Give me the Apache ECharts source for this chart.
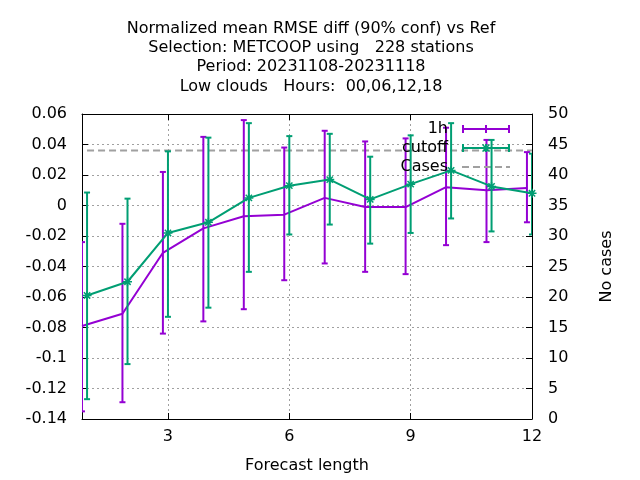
<!DOCTYPE html>
<html><head><meta charset="utf-8">
<script src="https://cdn.jsdelivr.net/npm/echarts@6/dist/echarts.min.js"></script>
<style>html,body{margin:0;padding:0;background:#fff}#c{width:640px;height:480px}</style>
</head><body><div id="c"></div>
<script>
// ---- data ----
const leadTimes = [1, 2, 3, 4, 5, 6, 7, 8, 9, 10, 11, 12];
const mean1h = [-0.079, -0.071, -0.031, -0.015, -0.007, -0.006, 0.005, -0.001, -0.001, 0.012, 0.010, 0.0115];
const lo1h   = [-0.135, -0.129, -0.084, -0.076, -0.068, -0.049, -0.038, -0.0435, -0.045, -0.026, -0.024, -0.011];
const hi1h   = [-0.024, -0.012, 0.022, 0.045, 0.056, 0.038, 0.049, 0.042, 0.044, 0.051, 0.043, 0.035];
const meanCutoff = [-0.059, -0.050, -0.018, -0.011, 0.005, 0.013, 0.017, 0.004, 0.014, 0.023, 0.0125, 0.008];
const loCutoff   = [-0.127, -0.104, -0.073, -0.067, -0.0435, -0.019, -0.0125, -0.025, -0.018, -0.0085, -0.017, -0.019];
const hiCutoff   = [0.0085, 0.0045, 0.0355, 0.0445, 0.054, 0.0455, 0.047, 0.032, 0.046, 0.054, 0.043, 0.034];
const cases = [44, 44, 44, 44, 44, 44, 44, 44, 44, 44, 44, 44];
const xTickValues = [3, 6, 9, 12];
const titleLines = [
  'Normalized mean RMSE diff (90% conf) vs Ref',
  'Selection: METCOOP using   228 stations',
  'Period: 20231108-20231118',
  'Low clouds   Hours:  00,06,12,18'
];

// ---- styling ----
const FONT = 'DejaVu Sans';
const PURPLE = '#9400d3', GREEN = '#009e73', GRAY = '#a0a0a0';
const SHIFT_1H = -0.125; // 1h series is drawn slightly left of the lead time
const ASTERISK = 'path://M0 5 L10 5 M5 0 L5 10 M1.5 1.5 L8.5 8.5 M1.5 8.5 L8.5 1.5';
// legend sample icons (filled shapes, 48 px wide)
const ICON_ERR = 'path://M0 3 H48 V5 H0 Z M0 0 H2 V8 H0 Z M23 0 H25 V8 H23 Z M46 0 H48 V8 H46 Z';
const ICON_ERR_STAR = ICON_ERR.replace('path://', 'path://M20 1 L21 0 L28 7 L27 8 Z M20 7 L27 0 L28 1 L21 8 Z ');
const ICON_DASH = 'path://M0 0 H7 V2 H0 Z M11 0 H18 V2 H11 Z M22 0 H29 V2 H22 Z M33 0 H40 V2 H33 Z M44 0 H48 V2 H44 Z';

function errorBars(name, color, xs, lo, hi) {
  return {
    type: 'custom', name, xAxisIndex: 0, yAxisIndex: 0, clip: true, z: 2,
    silent: true,
    data: xs.map((x, i) => [x, lo[i], hi[i]]),
    encode: { x: 0, y: [1, 2] },
    renderItem(params, api) {
      const x = api.value(0);
      const a = api.coord([x, api.value(1)]);
      const b = api.coord([x, api.value(2)]);
      const hw = 3;
      const st = { stroke: color, lineWidth: 2 };
      return { type: 'group', children: [
        { type: 'line', shape: { x1: a[0], y1: a[1], x2: b[0], y2: b[1] }, style: st },
        { type: 'line', shape: { x1: a[0] - hw, y1: a[1], x2: a[0] + hw, y2: a[1] }, style: st },
        { type: 'line', shape: { x1: b[0] - hw, y1: b[1], x2: b[0] + hw, y2: b[1] }, style: st }
      ]};
    }
  };
}

const x1h = leadTimes.map(v => v + SHIFT_1H);
const txt = { fontFamily: FONT, fontSize: 16, color: '#000' };
const tickStyle = { color: '#000', width: 1 };

const option = {
  animation: false,
  backgroundColor: '#fff',
  title: {
    text: titleLines.join('\n'),
    left: 306, top: 14, textAlign: 'center',
    textStyle: { fontFamily: FONT, fontSize: 16, fontWeight: 'normal', color: '#000', lineHeight: 19.3 }
  },
  grid: { left: 82, right: 108, top: 114, bottom: 61, outerBoundsMode: 'none', containLabel: false },
  legend: {
    orient: 'vertical', right: 125, top: 116, align: 'right',
    itemWidth: 48, itemHeight: 10, itemGap: 3, selectedMode: false,
    textStyle: { fontFamily: FONT, fontSize: 16, color: '#000', padding: [0, 9, 0, 0] },
    data: [
      { name: '1h', icon: ICON_ERR, itemStyle: { color: PURPLE, borderWidth: 0 } },
      { name: 'cutoff', icon: ICON_ERR_STAR, itemStyle: { color: GREEN, borderWidth: 0 } },
      { name: 'Cases', icon: ICON_DASH, itemStyle: { color: GRAY, borderWidth: 0 } }
    ]
  },
  xAxis: [{
    type: 'value', min: 0.875, max: 12, position: 'bottom',
    axisLine: { show: true, onZero: false, lineStyle: tickStyle },
    axisTick: { show: true, inside: true, length: 6, customValues: xTickValues, lineStyle: tickStyle },
    axisLabel: { customValues: xTickValues, ...txt, margin: 10 },
    splitLine: { show: true, lineStyle: { color: GRAY, type: [2, 3], width: 1 } },
    name: 'Forecast length', nameLocation: 'middle', nameGap: 39, nameTextStyle: txt
  }, {
    type: 'value', min: 0.875, max: 12, position: 'top',
    axisLine: { show: true, onZero: false, lineStyle: tickStyle },
    axisTick: { show: true, inside: true, length: 6, customValues: xTickValues, lineStyle: tickStyle },
    axisLabel: { show: false }, splitLine: { show: false }
  }],
  yAxis: [{
    type: 'value', min: -0.14, max: 0.06, interval: 0.02, position: 'left',
    axisLine: { show: true, onZero: false, lineStyle: tickStyle },
    axisTick: { show: true, inside: true, length: 6, lineStyle: tickStyle },
    axisLabel: { ...txt, margin: 15, formatter: v => String(+v.toFixed(2)) },
    splitLine: { show: true, lineStyle: { color: GRAY, type: [2, 3], width: 1 } }
  }, {
    type: 'value', min: 0, max: 50, interval: 5, position: 'right',
    axisLine: { show: true, onZero: false, lineStyle: tickStyle },
    axisTick: { show: true, inside: true, length: 6, lineStyle: tickStyle },
    axisLabel: { ...txt, margin: 16 },
    splitLine: { show: false },
    name: 'No cases', nameLocation: 'middle', nameRotate: 90, nameGap: 67, nameTextStyle: txt
  }],
  series: [
    {
      type: 'line', name: '1h', xAxisIndex: 0, yAxisIndex: 0, z: 3,
      data: x1h.map((x, i) => [x, mean1h[i]]),
      symbol: 'none', lineStyle: { color: PURPLE, width: 2 }, itemStyle: { color: PURPLE },
      emphasis: { disabled: true }
    },
    {
      type: 'line', name: 'cutoff', xAxisIndex: 0, yAxisIndex: 0, z: 5,
      data: leadTimes.map((x, i) => [x, meanCutoff[i]]),
      symbol: ASTERISK, symbolSize: 9, showAllSymbol: true,
      lineStyle: { color: GREEN, width: 2 },
      itemStyle: { color: GREEN, borderColor: GREEN, borderWidth: 1.5 },
      emphasis: { disabled: true }
    },
    {
      type: 'line', name: 'Cases', xAxisIndex: 0, yAxisIndex: 1, z: 1,
      data: leadTimes.map((x, i) => [x, cases[i]]),
      symbol: 'none', lineStyle: { color: GRAY, width: 2, type: [7, 4] }, itemStyle: { color: GRAY },
      emphasis: { disabled: true }
    },
    errorBars('1h', PURPLE, x1h, lo1h, hi1h),
    Object.assign(errorBars('cutoff', GREEN, leadTimes, loCutoff, hiCutoff), { z: 4 })
  ]
};

const chart = echarts.init(document.getElementById('c'), null, { renderer: 'canvas' });
chart.setOption(option);
</script>
</body></html>
